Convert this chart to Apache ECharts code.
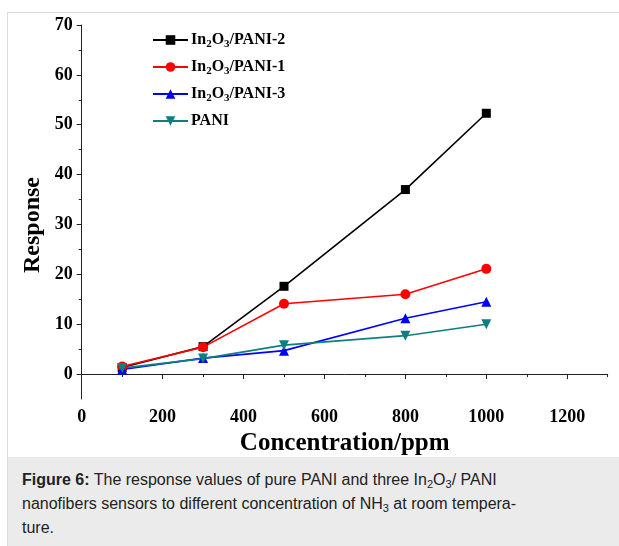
<!DOCTYPE html>
<html><head><meta charset="utf-8">
<script src="https://cdn.jsdelivr.net/npm/echarts@6/dist/echarts.min.js"></script>
<style>
html,body{margin:0;padding:0;background:#fff;width:619px;height:546px;overflow:hidden;}
#frame{position:absolute;left:7px;top:12px;width:640px;height:560px;border:1px solid #dcdcdc;box-sizing:border-box;}
#chart{position:absolute;left:0;top:0;width:619px;height:546px;}
#cap{position:absolute;left:8px;top:457px;width:611px;height:89px;background:#ebebeb;font-family:"Liberation Sans",Arial,sans-serif;font-size:16px;line-height:24px;color:#222;padding:11px 0 0 14px;box-sizing:border-box;}
#cap sub{font-size:11px;line-height:0;vertical-align:-3px;}
</style></head>
<body>
<div id="frame"></div>
<div id="chart"></div>
<div id="cap"><b>Figure 6:</b> The response values of pure PANI and three In<sub>2</sub>O<sub>3</sub>/ PANI<br>nanofibers sensors to different concentration of NH<sub>3</sub> at room tempera-<br>ture.</div>
<script>
const concentrations = [100, 300, 500, 800, 1000];
const seriesNames = ['In2O3/PANI-2', 'In2O3/PANI-1', 'In2O3/PANI-3', 'PANI'];
const pani2 = [1.3, 5.5, 17.6, 37.0, 52.3];
const pani1 = [1.5, 5.4, 14.1, 16.0, 21.1];
const pani3 = [0.9, 3.2, 4.7, 11.2, 14.5];
const pani = [1.2, 3.1, 5.8, 7.7, 10.0];
const yMajor = [0, 10, 20, 30, 40, 50, 60, 70];
const yMinor = [5, 15, 25, 35, 45, 55, 65];
const xMajor = [0, 200, 400, 600, 800, 1000, 1200];
const xMinor = [100, 300, 500, 700, 900, 1100, 1300];

const serif = '"Liberation Serif","Times New Roman",serif';
const axisCol = '#222';
const chart = echarts.init(document.getElementById('chart'));
const pair = arr => concentrations.map((x, i) => [x, arr[i]]);
function mk(name, data, color, symbol, size, rot) {
  return {name, type: 'line', data: pair(data), symbol, symbolSize: size, symbolRotate: rot || 0,
    lineStyle: {color, width: 1.6}, itemStyle: {color}, z: 3, animation: false};
}
const grid = {left: 81.7, right: 11.3, top: 25, bottom: 147};
chart.setOption({
  animation: false,
  grid,
  graphic: [{
    type: 'text', x: 33, y: 225, rotation: Math.PI / 2,
    style: {text: 'Response', fontFamily: serif, fontWeight: 'bold', fontSize: 24, fill: '#000',
      align: 'center', verticalAlign: 'middle'}
  }],
  legend: {
    left: 152, top: 32, padding: 0, orient: 'vertical', itemWidth: 35, itemHeight: 12, itemGap: 9.5,
    data: seriesNames,
    formatter: n => n.startsWith('In2O3') ? 'In{s|2}O{s|3}' + n.slice(5) : n,
    textStyle: {fontFamily: serif, fontWeight: 'bold', fontSize: 16, color: '#000', padding: [0, 0, 0, -2],
      rich: {s: {fontFamily: serif, fontWeight: 'bold', fontSize: 11, color: '#000', padding: [8, 0, 0, 0]}}}
  },
  xAxis: [{
    type: 'value', min: 0, max: 1300, position: 'bottom',
    name: 'Concentration/ppm', nameLocation: 'middle', nameGap: 24,
    nameTextStyle: {fontFamily: serif, fontWeight: 'bold', fontSize: 25, color: '#000'},
    axisLine: {show: true, lineStyle: {color: axisCol, width: 1}},
    axisTick: {show: true, inside: false, customValues: xMajor, length: 5, lineStyle: {color: axisCol}},
    axisLabel: {customValues: xMajor, formatter: v => String(v), fontFamily: serif, fontWeight: 'bold', fontSize: 18, color: '#000', margin: 9},
    splitLine: {show: false}
  }, {
    type: 'value', min: 0, max: 1300, position: 'bottom',
    axisLine: {show: false},
    axisTick: {show: true, inside: false, customValues: xMinor, length: 3, lineStyle: {color: axisCol}},
    axisLabel: {show: false}, splitLine: {show: false}
  }],
  yAxis: [{
    type: 'value', min: -5, max: 70,
    axisLine: {show: true, lineStyle: {color: axisCol, width: 1}},
    axisTick: {show: true, inside: false, customValues: yMajor, length: 5, lineStyle: {color: axisCol}},
    axisLabel: {customValues: yMajor, formatter: v => String(v), fontFamily: serif, fontWeight: 'bold', fontSize: 18, color: '#000', margin: 9},
    splitLine: {show: false}
  }, {
    type: 'value', min: -5, max: 70, position: 'left',
    axisLine: {show: false},
    axisTick: {show: true, inside: false, customValues: yMinor, length: 3, lineStyle: {color: axisCol}},
    axisLabel: {show: false}, splitLine: {show: false}
  }],
  series: [
    mk(seriesNames[0], pani2, '#000000', 'rect', 9),
    mk(seriesNames[1], pani1, '#ff0000', 'circle', 10),
    mk(seriesNames[2], pani3, '#0000ff', 'triangle', 10),
    mk(seriesNames[3], pani, '#0d7f7f', 'triangle', 10, 180)
  ]
});
</script>
</body></html>
